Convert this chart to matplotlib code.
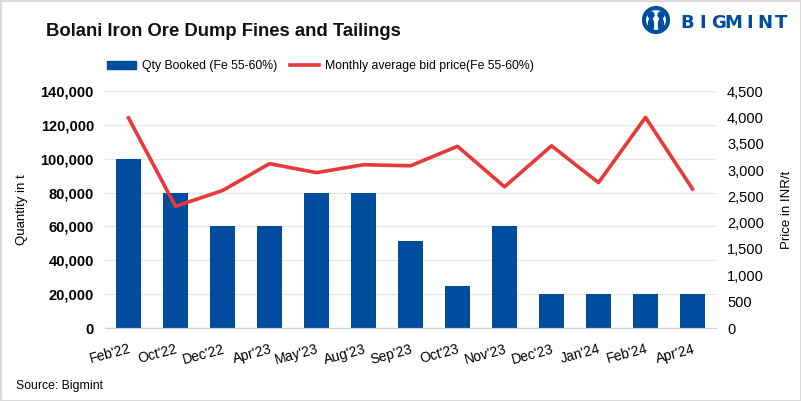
import matplotlib.pyplot as plt
from matplotlib.patches import Rectangle, Ellipse
from matplotlib.lines import Line2D
from matplotlib.ticker import FuncFormatter

months = ["Feb'22", "Oct'22", "Dec'22", "Apr'23", "May'23", "Aug'23", "Sep'23",
          "Oct'23", "Nov'23", "Dec'23", "Jan'24", "Feb'24", "Apr'24"]
qty = [100000, 80000, 60000, 60000, 80000, 80000, 51500,
       25000, 60000, 20000, 20000, 20000, 20000]
price = [3990, 2310, 2610, 3120, 2950, 3100, 3080,
         3450, 2680, 3460, 2760, 4000, 2640]

BLUE = '#004c9f'
RED = '#e8393a'
plt.rcParams['font.family'] = ['Liberation Sans', 'DejaVu Sans']

fig = plt.figure(figsize=(8.01, 4.01), dpi=100)
ax = fig.add_axes([105 / 801, 1 - 328 / 401, 611 / 801, 237 / 401])
ax2 = ax.twinx()

x = range(len(months))
ax.bar(x, qty, width=0.52, color=BLUE, zorder=2)
ax2.plot(x, price, color=RED, lw=2.6, zorder=3)

ax.set_ylim(0, 140000)
ax.set_yticks(range(0, 140001, 20000))
ax.yaxis.set_major_formatter(FuncFormatter(lambda v, p: f'{int(v):,}'))
ax2.set_ylim(0, 4500)
ax2.set_yticks(range(0, 4501, 500))
ax2.yaxis.set_major_formatter(FuncFormatter(lambda v, p: f'{int(v):,}'))
ax.set_xlim(-0.5, len(months) - 0.5)
ax.set_xticks(list(x))
ax.set_xticklabels(months, rotation=15, fontsize=10, ha='right',
                   rotation_mode='anchor')

ax.grid(axis='y', color='#e6e6e6', lw=0.9, zorder=0)
ax.set_axisbelow(True)
for a in (ax, ax2):
    for s in ('top', 'left', 'right'):
        a.spines[s].set_visible(False)
    a.spines['bottom'].set_color('#d0d0d0')
    a.tick_params(length=0)
ax.tick_params(axis='y', labelsize=10.5, pad=8)
ax.tick_params(axis='x', pad=10)
for t in ax.get_yticklabels():
    t.set_fontweight('bold')
ax2.tick_params(axis='y', labelsize=10.5, pad=8)
ax.set_ylabel('Quantity in t', fontsize=9.5, labelpad=9)
ax2.set_ylabel('Price in INR/t', fontsize=9.5, labelpad=12)

fig.text(46 / 801, 1 - 32 / 401, 'Bolani Iron Ore Dump Fines and Tailings',
         fontsize=13.3, fontweight='bold', va='center', color='#111111')
fig.text(16 / 801, 1 - 386 / 401, 'Source: Bigmint', fontsize=8.8, va='center')

handles = [Rectangle((0, 0), 1, 1, color=BLUE), Line2D([0], [0], color=RED, lw=2.6)]
fig.legend(handles, ['Qty Booked (Fe 55-60%)', 'Monthly average bid price(Fe 55-60%)'],
           loc='center left', bbox_to_anchor=(96 / 801, 1 - 66 / 401), ncol=2,
           frameon=False, fontsize=8.8, handlelength=2.4, handleheight=0.6,
           columnspacing=1.0, handletextpad=0.5)


# logo
def fx(px):
    return px / 801


def fy(py):
    return 1 - py / 401


def blob(cx, cy, w, h, **kw):
    fig.patches.append(Ellipse((fx(cx), fy(cy)), w / 801, h / 401,
                               transform=fig.transFigure, **kw))


blob(656, 20, 24, 24, fill=False, ec=BLUE, lw=3.0)
blob(651, 15, 6, 6, color=BLUE)
blob(661, 15, 6, 6, color=BLUE)
blob(651, 25, 5, 14, color=BLUE)
blob(661, 25, 5, 14, color=BLUE)
for i, ch in enumerate('BIGMINT'):
    fig.text(fx(687 + i * 15.6), fy(23), ch, fontsize=13, fontweight='bold',
             color=BLUE, va='center', ha='center', family=['DejaVu Sans'])

fig.patches.append(Rectangle((0.5 / 801, 0.5 / 401), 1 - 1 / 801, 1 - 1 / 401,
                             transform=fig.transFigure, fill=False, ec='#d9d9d9', lw=1.5))
fig.savefig('out.png', dpi=100, facecolor='white')
